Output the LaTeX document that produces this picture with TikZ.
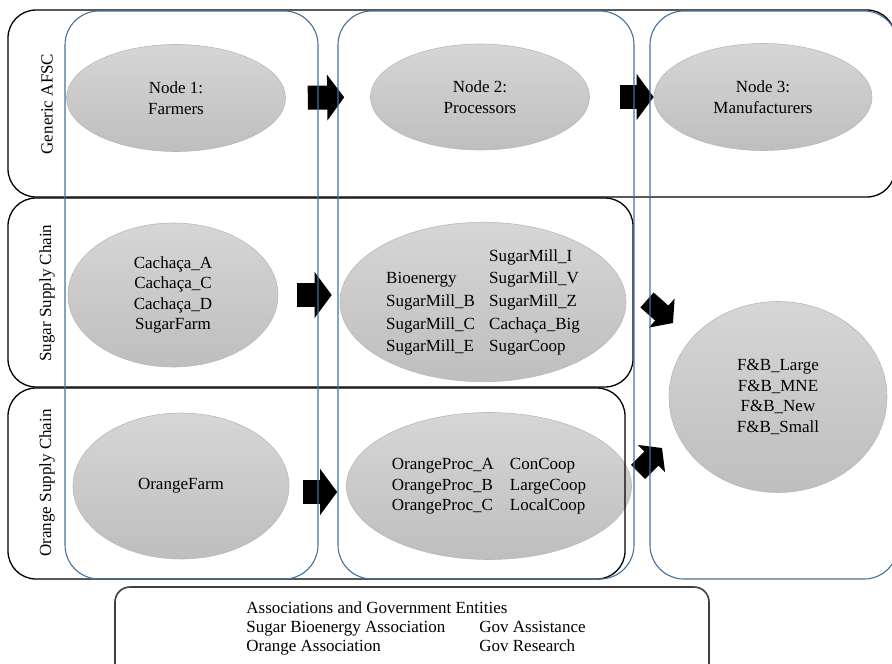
\documentclass[tikz,border=0pt]{standalone}
\usepackage{fontspec}
\setmainfont{Liberation Serif}
\usetikzlibrary{shapes.geometric, arrows.meta}
\definecolor{colblue}{RGB}{65,113,156}
\definecolor{ellline}{RGB}{185,185,185}

\tikzset{
  actor/.style={ellipse, draw=ellline, line width=0.6pt, inner sep=0pt,
    top color={rgb,255:red,214;green,214;blue,214},
    bottom color={rgb,255:red,190;green,190;blue,190},
    align=center, font=\rmfamily\fontsize{17}{20.5}\selectfont},
  rowbox/.style={draw=black, line width=1.3pt, rounded corners=28pt},
  colbox/.style={draw=colblue, line width=1.1pt, rounded corners=34pt},
  assocbox/.style={draw=black!75, line width=1.6pt, rounded corners=15pt},
  rowlabel/.style={rotate=90, font=\rmfamily\fontsize{17}{20}\selectfont},
  bigarrow/.style={line width=24pt, -{Triangle[length=17pt,width=45pt]}},
  diagarrow/.style={line width=20pt, -{Triangle[length=15pt,width=38pt]}}
}

\begin{document}
\begin{tikzpicture}[x=1pt, y=-1pt]
  \useasboundingbox (0,0) rectangle (892,664);

  % actors
  \node[actor, minimum width=219pt, minimum height=107pt] (n1) at (176,98) {Node 1:\\Farmers};
  \node[actor, minimum width=219pt, minimum height=106pt] (n2) at (480,97) {Node 2:\\Processors};
  \node[actor, minimum width=218pt, minimum height=107pt] (n3) at (763,97) {Node 3:\\Manufacturers};
  \node[actor, minimum width=210pt, minimum height=144pt] (sf) at (173,295)
    {Cachaça\_A\\Cachaça\_C\\Cachaça\_D\\SugarFarm};
  \node[actor, minimum width=286pt, minimum height=146pt] (sp) at (483,302)
    {\def\arraystretch{1.1}%
     \begin{tabular}{@{}p{103pt}@{}l@{}}
       & SugarMill\_I\\
       Bioenergy & SugarMill\_V\\
       SugarMill\_B & SugarMill\_Z\\
       SugarMill\_C & Cachaça\_Big\\
       SugarMill\_E & SugarCoop
     \end{tabular}};
  \node[actor, minimum width=218pt, minimum height=191pt] (fb) at (778,397)
    {F\&B\_Large\\F\&B\_MNE\\F\&B\_New\\F\&B\_Small};
  \node[actor, minimum width=216pt, minimum height=146pt] (of) at (181,486) {OrangeFarm};
  \node[actor, minimum width=285pt, minimum height=147pt] (op) at (489,486)
    {\begin{tabular}{@{}p{118pt}@{}l@{}}
       OrangeProc\_A & ConCoop\\
       OrangeProc\_B & LargeCoop\\
       OrangeProc\_C & LocalCoop
     \end{tabular}};

  % supply chain rows
  \draw[rowbox] (8,10) rectangle (895,197);
  \draw[rowbox] (8,198) rectangle (633,387);
  \draw[rowbox] (8,388) rectangle (625,579);
  \node[rowlabel] (lblA) at (47,104) {Generic AFSC};
  \node[rowlabel] (lblS) at (47,293) {Sugar Supply Chain};
  \node[rowlabel] (lblO) at (47,483) {Orange Supply Chain};

  % associations
  \draw[assocbox] (115,587) rectangle (709,690);
  \node[font=\rmfamily\fontsize{17}{19}\selectfont] (assoc) at (416,629)
    {\begin{tabular}{@{}p{233pt}@{}l@{}}
       \multicolumn{2}{@{}l@{}}{Associations and Government Entities}\\
       Sugar Bioenergy Association & Gov Assistance\\
       Orange Association & Gov Research
     \end{tabular}};

  % flows
  \draw[bigarrow, shorten <=22pt, shorten >=26pt] (n1.east) -- (n2.west);
  \draw[bigarrow, shorten <=30pt] (n2.east) -- (n3.west);
  \draw[bigarrow, shorten <=19pt, shorten >=8pt] (sf.east) -- (sf.east -| sp.west);
  \draw[bigarrow, shorten <=14pt, shorten >=9pt] ([yshift=-6pt]of.east) -- ([yshift=-6pt]op.west);
  \coordinate (sugtail) at (647,300);
  \coordinate (sughead) at (673,323);
  \coordinate (ortail) at (638,472);
  \coordinate (orhead) at (662,448);
  \draw[diagarrow] (sugtail) -- (sughead);
  \draw[diagarrow] (ortail) -- (orhead);

  % node columns
  \draw[colbox] (65,11) rectangle (318,579);
  \draw[colbox] (338,11) rectangle (634,579);
  \draw[colbox] (650,11) rectangle (898,579);
\end{tikzpicture}
\end{document}
